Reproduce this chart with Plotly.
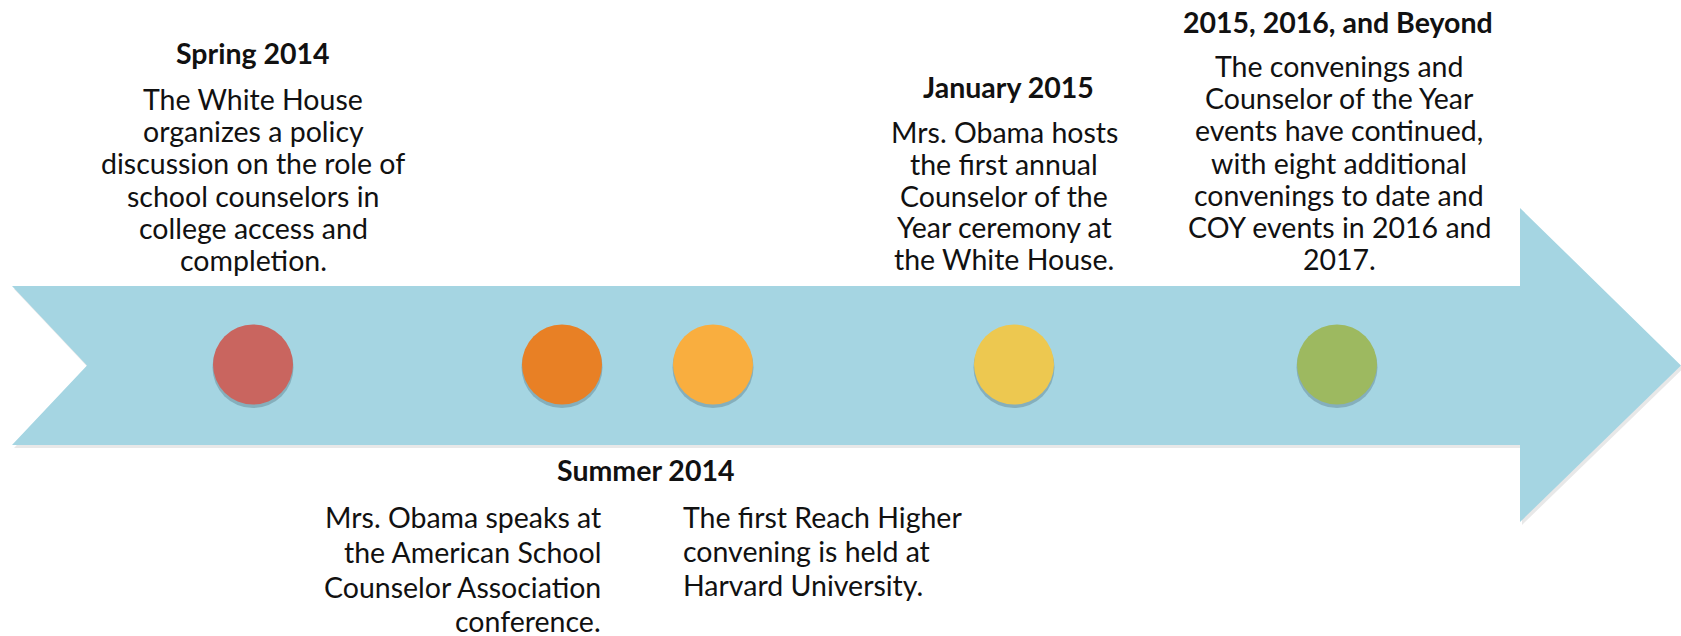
import plotly.graph_objects as go

W, H = 1681, 636

# timeline events: position along the arrow (px on the 1681-wide canvas) and dot colour
event_pos = [253, 562, 713, 1014, 1337]
event_colors = ["#C9655F", "#E88025", "#F9AE3F", "#EDC850", "#9DB960"]

headings = ["Spring 2014", "Summer 2014", "January 2015", "2015, 2016, and Beyond"]
spring_text = ["The White House", "organizes a policy", "discussion on the role of",
               "school counselors in", "college access and", "completion."]
summer_text_a = ["Mrs. Obama speaks at", "the American School",
                 "Counselor Association", "conference."]
summer_text_b = ["The first Reach Higher", "convening is held at", "Harvard University."]
january_text = ["Mrs. Obama hosts", "the first annual", "Counselor of the",
                "Year ceremony at", "the White House."]
beyond_text = ["The convenings and", "Counselor of the Year", "events have continued,",
               "with eight additional", "convenings to date and",
               "COY events in 2016 and", "2017."]

FONT = "Lato"
FS = 28.5
TXT = "#111111"
ARROW = "#A5D5E2"

# arrow geometry
top, bot, mid = 286, 445, 365.5
left, notch, shaft_end, tip = 12, 87, 1520, 1681
head_top, head_bot = 208, 522
ax_ = [left, shaft_end, shaft_end, tip, shaft_end, shaft_end, left, notch, left]
ay_ = [top, top, head_top, mid, head_bot, bot, bot, mid, top]

fig = go.Figure()

# soft shadow under the arrow
fig.add_trace(go.Scatter(x=[v + 2 for v in ax_], y=[v + 3 for v in ay_], fill="toself",
                         fillcolor="rgba(0,0,0,0.09)", line=dict(width=0),
                         mode="lines", hoverinfo="skip", showlegend=False))
fig.add_trace(go.Scatter(x=ax_, y=ay_, fill="toself", fillcolor=ARROW,
                         line=dict(width=0), mode="lines", hoverinfo="skip", showlegend=False))

# dots with a faint drop shadow
fig.add_trace(go.Scatter(x=event_pos, y=[mid + 2] * len(event_pos), mode="markers",
                         marker=dict(size=81, color="rgba(60,90,100,0.30)", line=dict(width=0)),
                         hoverinfo="skip", showlegend=False))
fig.add_trace(go.Scatter(x=event_pos, y=[mid - 1] * len(event_pos), mode="markers",
                         marker=dict(size=80, color=event_colors, line=dict(width=0)),
                         hoverinfo="skip", showlegend=False))


def add_block(lines, x, y0, step, align="center", size=FS):
    for i, line in enumerate(lines):
        fig.add_annotation(x=x, y=y0 + i * step, text=line, showarrow=False,
                           xanchor=align, yanchor="middle",
                           font=dict(family=FONT, size=size, color=TXT))


def add_heading(text, x, y, size=FS):
    fig.add_annotation(x=x, y=y, text="<b>" + text + "</b>", showarrow=False,
                       xanchor="center", yanchor="middle",
                       font=dict(family=FONT, size=size, color=TXT))


add_heading(headings[0], 253, 53)
add_block(spring_text, 253, 99, 32.2)

add_heading(headings[1], 645, 470)
add_block(summer_text_a, 603, 517, 34.8, align="right")
add_block(summer_text_b, 681, 517, 34, align="left")

add_heading(headings[2], 1008, 87)
add_block(january_text, 1004, 132, 31.8)

add_heading(headings[3], 1338, 22)
add_block(beyond_text, 1339, 66, 32.2)

fig.update_layout(
    width=W, height=H,
    margin=dict(l=0, r=0, t=0, b=0),
    paper_bgcolor="white", plot_bgcolor="white",
    xaxis=dict(range=[0, W], visible=False, fixedrange=True),
    yaxis=dict(range=[H, 0], visible=False, fixedrange=True),
    showlegend=False,
)

# drop the page's default body margin so the canvas sits at the window's corner
fig.write_html("out.html", config={"displayModeBar": False},
               post_script="document.body.style.margin='0';")
